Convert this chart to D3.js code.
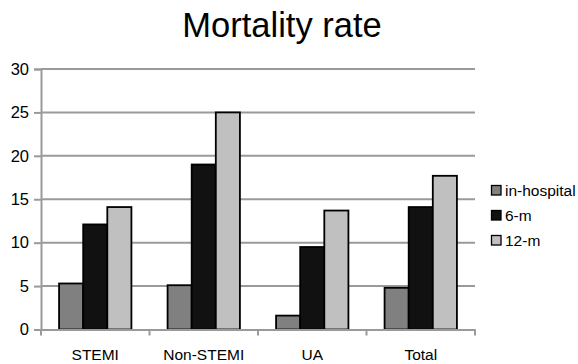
<!DOCTYPE html>
<html><head><meta charset="utf-8">
<script src="https://cdn.jsdelivr.net/npm/d3@7"></script>
<style>body{margin:0;background:#fff}svg{display:block;font-family:"Liberation Sans",Arial,sans-serif}</style>
</head><body><svg id="c" width="578" height="364"></svg>
<script>
const categories = ["STEMI", "Non-STEMI", "UA", "Total"];
const seriesNames = ["in-hospital", "6-m", "12-m"];
const inHospital = [5.3, 5.1, 1.6, 4.8];
const sixMonth = [12.1, 19.0, 9.5, 14.1];
const twelveMonth = [14.1, 25.0, 13.7, 17.7];
const yTicks = [0, 5, 10, 15, 20, 25, 30];
const colors = ["#808080", "#111111", "#c0c0c0"];
const values = [inHospital, sixMonth, twelveMonth];

const svg = d3.select("#c");
const m = {left: 41, right: 475, top: 69, bottom: 329.5};
const x = d3.scaleBand().domain(categories).range([m.left, m.right]).paddingInner(0).paddingOuter(0);
const xs = d3.scaleBand().domain(seriesNames).range([0, x.bandwidth()]).paddingInner(0).paddingOuter(0.75);
const y = d3.scaleLinear().domain([0, 30]).range([m.bottom, m.top]);

svg.append("text").attr("x", 282).attr("y", 37).attr("text-anchor", "middle")
  .attr("font-size", 34.5).attr("fill", "#000").text("Mortality rate");

// gridlines
svg.append("g").selectAll("line").data(yTicks.filter(d => d > 0)).join("line")
  .attr("x1", m.left).attr("x2", m.right).attr("y1", d => y(d)).attr("y2", d => y(d))
  .attr("stroke", "#9a9a9a").attr("stroke-width", 2);

// y axis
const ya = svg.append("g").attr("transform", `translate(${m.left},0)`)
  .call(d3.axisLeft(y).tickValues(yTicks).tickSize(7).tickPadding(5));
ya.select(".domain").attr("stroke", "#9a9a9a").attr("stroke-width", 2);
ya.selectAll(".tick line").attr("stroke", "#9a9a9a").attr("stroke-width", 2);
ya.selectAll(".tick text").attr("font-size", 16.5).attr("fill", "#000").attr("font-family", "Liberation Sans, Arial, sans-serif");

// bars
const g = svg.append("g");
values.forEach((vals, si) => {
  g.append("g").selectAll("rect").data(categories).join("rect")
    .attr("x", (c) => x(c) + xs(seriesNames[si]))
    .attr("width", xs.bandwidth())
    .attr("y", (c, i) => y(vals[i]))
    .attr("height", (c, i) => y(0) - y(vals[i]))
    .attr("fill", colors[si]).attr("stroke", "#000").attr("stroke-width", 1.8);
});

// x axis
const xa = svg.append("g").attr("transform", `translate(0,${m.bottom})`)
  .call(d3.axisBottom(x).tickSize(0).tickPadding(19));
xa.select(".domain").attr("stroke", "#9a9a9a").attr("stroke-width", 2);
xa.selectAll(".tick text").attr("font-size", 15.5).attr("fill", "#000").attr("font-family", "Liberation Sans, Arial, sans-serif");
const bounds = [m.left, ...categories.map(c => x(c) + x.bandwidth())];
svg.append("g").selectAll("line").data(bounds).join("line")
  .attr("x1", d => d).attr("x2", d => d).attr("y1", m.bottom).attr("y2", m.bottom + 6)
  .attr("stroke", "#9a9a9a").attr("stroke-width", 2);

// legend
const lg = svg.append("g").selectAll("g").data(seriesNames).join("g")
  .attr("transform", (d, i) => `translate(491,${190 + i * 25})`);
lg.append("rect").attr("x", 0.5).attr("y", -4.5).attr("width", 9.5).attr("height", 9.5)
  .attr("fill", (d, i) => colors[i]).attr("stroke", "#000").attr("stroke-width", 1.3);
lg.append("text").attr("x", 14).attr("y", 5.5).attr("font-size", 15.5).attr("fill", "#000").text(d => d);
</script></body></html>
